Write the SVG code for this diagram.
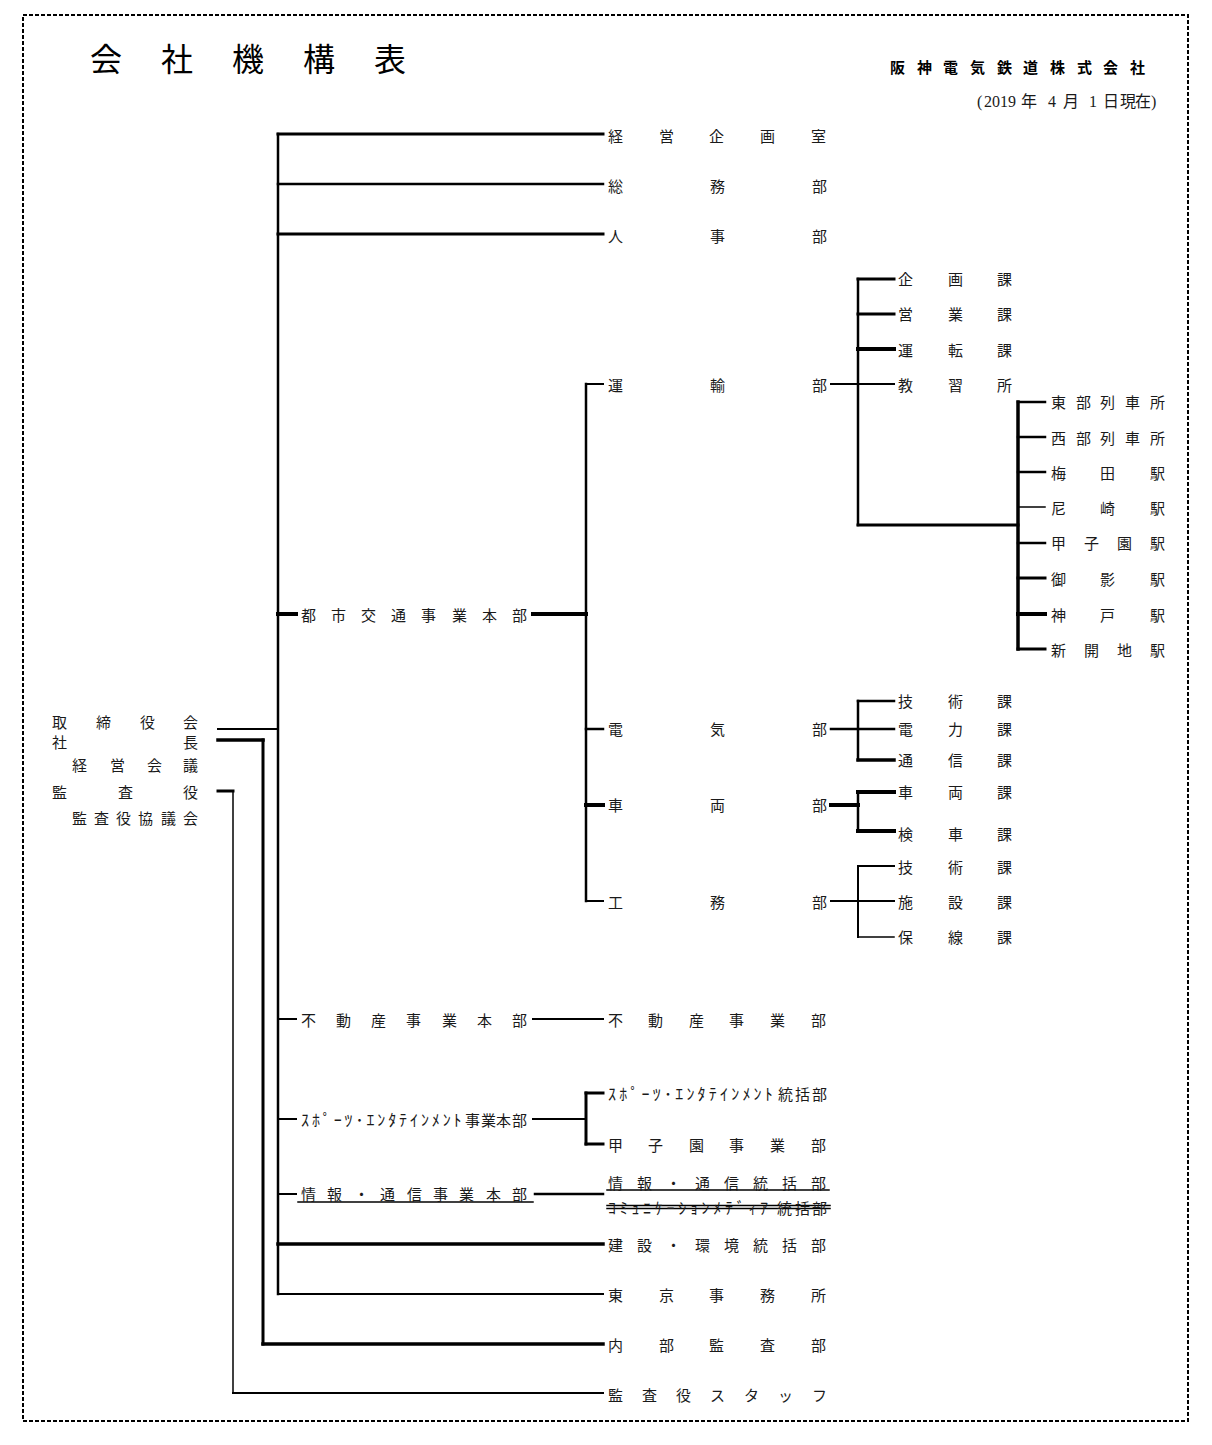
<svg xmlns="http://www.w3.org/2000/svg" width="1212" height="1445" viewBox="0 0 1212 1445">
<style>
text{font-family:"Noto Sans CJK JP","Noto Sans CJK SC",sans-serif;font-size:15px;fill:#1a1a1a;dominant-baseline:central}
.title{font-size:32px;fill:#000}
.co{font-weight:bold;fill:#000}
.date{font-family:"Liberation Serif","Noto Sans CJK JP",serif;font-size:16px}
.hw{font-size:16px}
line{stroke:#000;stroke-linecap:square}
.w15{stroke-width:1.5}.w2{stroke-width:2}.w25{stroke-width:2.5}.w3{stroke-width:3}.w35{stroke-width:3.5}.w4{stroke-width:4}
</style>
<rect x="0" y="0" width="1212" height="1445" fill="#fff"/>
<rect x="23" y="15" width="1165" height="1406" fill="none" stroke="#000" stroke-width="2" stroke-dasharray="4 2"/>

<g id="header">
<text class="title" x="90 161 232 303 374" y="57">会社機構表</text>
<text class="co" x="890 917 943 970 997 1023 1050 1077 1103 1130" y="66">阪神電気鉄道株式会社</text>
<text class="date" y="101"><tspan x="977">(</tspan><tspan x="984">2019</tspan><tspan x="1021">年</tspan><tspan x="1048">4</tspan><tspan x="1063">月</tspan><tspan x="1089">1</tspan><tspan x="1103">日</tspan><tspan x="1120">現</tspan><tspan x="1135">在</tspan><tspan x="1151">)</tspan></text>
</g>

<g id="connectors">
<line class="w2" x1="218" y1="729" x2="278" y2="729"/>
<line class="w35" x1="218" y1="740" x2="263" y2="740"/>
<line class="w3" x1="263" y1="740" x2="263" y2="1344"/>
<line class="w35" x1="263" y1="1344" x2="603" y2="1344"/>
<line class="w3" x1="218" y1="791" x2="233" y2="791"/>
<line class="w15" x1="233" y1="791" x2="233" y2="1393"/>
<line class="w2" x1="233" y1="1393" x2="603" y2="1393"/>
<line class="w25" x1="278" y1="134" x2="278" y2="1294"/>
<line class="w3" x1="278" y1="134" x2="603" y2="134"/>
<line class="w25" x1="278" y1="184" x2="603" y2="184"/>
<line class="w3" x1="278" y1="234" x2="603" y2="234"/>
<line class="w35" x1="278" y1="1244" x2="603" y2="1244"/>
<line class="w2" x1="278" y1="1294" x2="603" y2="1294"/>
<line class="w4" x1="278" y1="614" x2="296" y2="614"/>
<line class="w4" x1="533" y1="614" x2="586" y2="614"/>
<line class="w25" x1="586" y1="384" x2="586" y2="901"/>
<line class="w2" x1="586" y1="384" x2="603" y2="384"/>
<line class="w25" x1="586" y1="729" x2="603" y2="729"/>
<line class="w4" x1="586" y1="805" x2="603" y2="805"/>
<line class="w2" x1="586" y1="901" x2="603" y2="901"/>
<line class="w2" x1="831" y1="384" x2="894" y2="384"/>
<line class="w25" x1="858" y1="279" x2="858" y2="525"/>
<line class="w3" x1="858" y1="279" x2="894" y2="279"/>
<line class="w3" x1="858" y1="314" x2="894" y2="314"/>
<line class="w4" x1="858" y1="349" x2="894" y2="349"/>
<line class="w3" x1="858" y1="525" x2="1018" y2="525"/>
<line class="w35" x1="1018" y1="402" x2="1018" y2="649"/>
<line class="w25" x1="1018" y1="402" x2="1045" y2="402"/>
<line class="w25" x1="1018" y1="437" x2="1045" y2="437"/>
<line class="w25" x1="1018" y1="472" x2="1045" y2="472"/>
<line class="w15" x1="1018" y1="507" x2="1045" y2="507"/>
<line class="w25" x1="1018" y1="543" x2="1045" y2="543"/>
<line class="w3" x1="1018" y1="578" x2="1045" y2="578"/>
<line class="w4" x1="1018" y1="614" x2="1045" y2="614"/>
<line class="w3" x1="1018" y1="649" x2="1045" y2="649"/>
<line class="w25" x1="831" y1="729" x2="894" y2="729"/>
<line class="w25" x1="858" y1="701" x2="858" y2="760"/>
<line class="w25" x1="858" y1="701" x2="894" y2="701"/>
<line class="w35" x1="858" y1="760" x2="894" y2="760"/>
<line class="w4" x1="831" y1="805" x2="858" y2="805"/>
<line class="w25" x1="858" y1="792" x2="858" y2="831"/>
<line class="w4" x1="858" y1="792" x2="894" y2="792"/>
<line class="w4" x1="858" y1="831" x2="894" y2="831"/>
<line class="w2" x1="831" y1="901" x2="894" y2="901"/>
<line class="w2" x1="858" y1="866" x2="858" y2="937"/>
<line class="w2" x1="858" y1="866" x2="894" y2="866"/>
<line class="w15" x1="858" y1="937" x2="894" y2="937"/>
<line class="w2" x1="278" y1="1019" x2="296" y2="1019"/>
<line class="w2" x1="533" y1="1019" x2="603" y2="1019"/>
<line class="w2" x1="278" y1="1119" x2="296" y2="1119"/>
<line class="w2" x1="533" y1="1119" x2="586" y2="1119"/>
<line class="w3" x1="586" y1="1093" x2="586" y2="1144"/>
<line class="w3" x1="586" y1="1093" x2="603" y2="1093"/>
<line class="w3" x1="586" y1="1144" x2="603" y2="1144"/>
<line class="w2" x1="278" y1="1194" x2="296" y2="1194"/>
<line class="w15" x1="298" y1="1202" x2="533" y2="1202"/>
<line class="w25" x1="535" y1="1194" x2="603" y2="1194"/>
<line class="w15" x1="607" y1="1190" x2="829" y2="1190"/>
<line class="w15" x1="607" y1="1205.5" x2="830" y2="1205.5"/>
<line class="w15" x1="607" y1="1208.5" x2="830" y2="1208.5"/>
</g>

<g id="nodes" transform="translate(0,-1)">
<g id="n-board"><text x="52 96 140 183" y="722">取締役会</text></g>
<g id="n-president"><text x="52 183" y="742">社長</text></g>
<g id="n-mgmt"><text x="72 110 147 183" y="765">経営会議</text></g>
<g id="n-auditor"><text x="52 118 183" y="792">監査役</text></g>
<g id="n-audit-council"><text x="72 94 116 138 161 183" y="818">監査役協議会</text></g>

<g id="n-keiei"><text x="608 659 709 760 811" y="136">経営企画室</text></g>
<g id="n-somu"><text x="608 710 812" y="186">総務部</text></g>
<g id="n-jinji"><text x="608 710 812" y="236">人事部</text></g>

<g id="n-toshi"><text x="301 331 361 391 421 452 482 512" y="615">都市交通事業本部</text></g>
<g id="n-unyu"><text x="608 710 812" y="385">運輸部</text></g>
<g id="n-denki"><text x="608 710 812" y="729">電気部</text></g>
<g id="n-sharyo"><text x="608 710 812" y="805">車両部</text></g>
<g id="n-komu"><text x="608 710 812" y="902">工務部</text></g>

<g id="n-kikaku"><text x="898 948 997" y="279">企画課</text></g>
<g id="n-eigyo"><text x="898 948 997" y="314">営業課</text></g>
<g id="n-unten"><text x="898 948 997" y="350">運転課</text></g>
<g id="n-kyoshu"><text x="898 948 997" y="385">教習所</text></g>

<g id="n-tobu"><text x="1051 1076 1100 1125 1150" y="402">東部列車所</text></g>
<g id="n-seibu"><text x="1051 1076 1100 1125 1150" y="438">西部列車所</text></g>
<g id="n-umeda"><text x="1051 1100 1150" y="473">梅田駅</text></g>
<g id="n-amagasaki"><text x="1051 1100 1150" y="508">尼崎駅</text></g>
<g id="n-koshien-st"><text x="1051 1084 1117 1150" y="543">甲子園駅</text></g>
<g id="n-mikage"><text x="1051 1100 1150" y="579">御影駅</text></g>
<g id="n-kobe"><text x="1051 1100 1150" y="615">神戸駅</text></g>
<g id="n-shinkaichi"><text x="1051 1084 1117 1150" y="650">新開地駅</text></g>

<g id="n-gijutsu1"><text x="898 948 997" y="701">技術課</text></g>
<g id="n-denryoku"><text x="898 948 997" y="729">電力課</text></g>
<g id="n-tsushin"><text x="898 948 997" y="760">通信課</text></g>
<g id="n-sharyoka"><text x="898 948 997" y="792">車両課</text></g>
<g id="n-kensha"><text x="898 948 997" y="834">検車課</text></g>
<g id="n-gijutsu2"><text x="898 948 997" y="867">技術課</text></g>
<g id="n-shisetsu"><text x="898 948 997" y="902">施設課</text></g>
<g id="n-hosen"><text x="898 948 997" y="937">保線課</text></g>

<g id="n-fudosan-hq"><text x="301 336 371 406 442 477 512" y="1020">不動産事業本部</text></g>
<g id="n-fudosan"><text x="608 648 689 729 770 811" y="1020">不動産事業部</text></g>

<g id="n-sports-hq"><text x="301 311.9 322.8 333.7 344.6 355.5 366.4 377.3 388.2 399.1 410 420.9 431.8 442.7 453.6 465 481 496 512" y="1120"><tspan class="hw">ｽﾎﾟｰﾂ･ｴﾝﾀﾃｲﾝﾒﾝﾄ</tspan>事業本部</text></g>
<g id="n-sports"><text x="608 619.2 630.4 641.6 652.8 664 675.2 686.4 697.6 708.8 720 731.2 742.4 753.6 764.8 778 795 812" y="1094"><tspan class="hw">ｽﾎﾟｰﾂ･ｴﾝﾀﾃｲﾝﾒﾝﾄ</tspan>統括部</text></g>
<g id="n-koshien"><text x="608 648 689 729 770 811" y="1145">甲子園事業部</text></g>

<g id="n-info-hq"><text x="301 327 354 380 407 433 459 486 512" y="1194">情報・通信事業本部</text></g>
<g id="n-info"><text x="608 637 666 695 724 753 782 811" y="1183">情報・通信統括部</text></g>
<g id="n-comm-media"><text x="608 619.7 631.4 643.1 654.8 666.5 678.2 689.9 701.6 713.3 725 736.7 748.4 760.1 777 795 812" y="1208"><tspan class="hw">ｺﾐｭﾆｹｰｼｮﾝﾒﾃﾞｨｱ</tspan>統括部</text></g>

<g id="n-kensetsu"><text x="608 637 666 695 724 753 782 811" y="1245">建設・環境統括部</text></g>
<g id="n-tokyo"><text x="608 659 709 760 811" y="1295">東京事務所</text></g>
<g id="n-naibu"><text x="608 659 709 760 811" y="1345">内部監査部</text></g>
<g id="n-staff"><text x="608 642 676 710 744 778 812" y="1395">監査役スタッフ</text></g>
</g>
</svg>
